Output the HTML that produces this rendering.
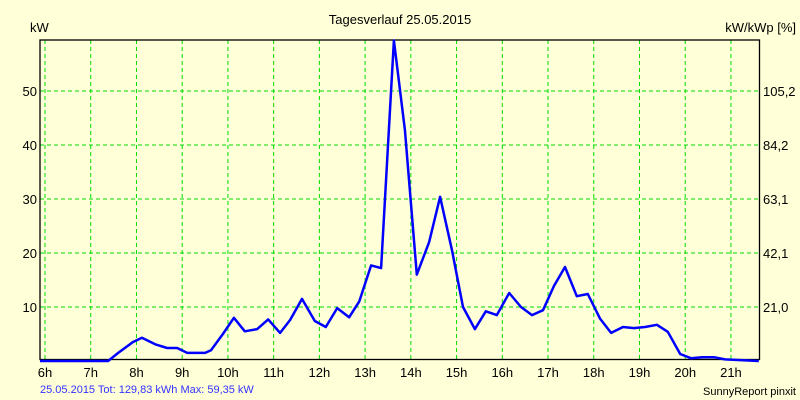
<!DOCTYPE html>
<html><head><meta charset="utf-8"><style>
html,body{margin:0;padding:0;background:#ffffd8;}
svg{display:block;font-family:"Liberation Sans",sans-serif;}
</style></head><body>
<svg width="800" height="400">
<rect x="0" y="0" width="800" height="400" fill="#ffffd8"/>
<text x="400" y="24" font-size="13" text-anchor="middle" fill="#000">Tagesverlauf 25.05.2015</text>
<text x="30" y="32" font-size="13" fill="#000">kW</text>
<text x="796" y="32" font-size="13" fill="#000" text-anchor="end">kW/kWp [%]</text>
<g id="grid"></g>
<g id="labels"></g>
<rect x="40" y="40" width="719.5" height="319.5" fill="none" stroke="#000" stroke-width="1.3"/>
<polyline id="line" fill="none" stroke="#0000ff" stroke-width="2.5" stroke-linejoin="round"/>
<text x="40" y="393" font-size="11" fill="#3333ff">25.05.2015 Tot: 129,83 kWh Max: 59,35 kW</text>
<text x="796" y="395" font-size="11" fill="#000" text-anchor="end">SunnyReport pinxit</text>
</svg>
<script>
const times=[5.89,7.38,7.60,7.92,8.12,8.41,8.67,8.89,9.11,9.50,9.63,9.89,10.13,10.37,10.64,10.88,11.14,11.36,11.62,11.90,12.14,12.39,12.65,12.87,13.13,13.35,13.63,13.87,14.13,14.40,14.64,14.90,15.14,15.40,15.64,15.88,16.15,16.41,16.65,16.89,17.13,17.37,17.63,17.87,18.14,18.38,18.64,18.88,19.12,19.38,19.62,19.89,20.13,20.37,20.63,20.87,21.61];
const powerKw=[0,0,1.5,3.5,4.3,3.1,2.4,2.4,1.5,1.5,2,5,8,5.5,5.9,7.7,5.2,7.6,11.5,7.4,6.3,9.8,8.1,11,17.7,17.2,59.35,42.8,16,22,30.4,20.5,10,5.9,9.2,8.5,12.6,10,8.5,9.4,13.9,17.4,12,12.4,7.8,5.2,6.3,6.1,6.3,6.7,5.4,1.3,0.5,0.7,0.7,0.3,0];
const hourTicks=[6,7,8,9,10,11,12,13,14,15,16,17,18,19,20,21];
const kwTicks=[10,20,30,40,50];
const pctLabels=["21,0","42,1","63,1","84,2","105,2"];
const X=h=>45+(h-6)*45.73;
const Y=v=>361-v*5.4;
const NS="http://www.w3.org/2000/svg";
const grid=document.getElementById('grid'),labels=document.getElementById('labels');
hourTicks.forEach(h=>{
  const l=document.createElementNS(NS,'line');
  
  
  l.setAttribute('x1',X(h));l.setAttribute('x2',X(h));l.setAttribute('y1',40);l.setAttribute('y2',360);
  l.setAttribute('stroke','#00dd00');l.setAttribute('stroke-dasharray','4,3');
  grid.appendChild(l);
  const t=document.createElementNS(NS,'text');
  
  
  t.setAttribute('x',X(h));t.setAttribute('y',377);t.setAttribute('font-size','13');t.setAttribute('text-anchor','middle');
  t.textContent=h+'h';labels.appendChild(t);
});
kwTicks.forEach((v,i)=>{
  const l=document.createElementNS(NS,'line');
  
  
  l.setAttribute('x1',40);l.setAttribute('x2',760);l.setAttribute('y1',Y(v));l.setAttribute('y2',Y(v));
  l.setAttribute('stroke','#00dd00');l.setAttribute('stroke-dasharray','4,3');
  grid.appendChild(l);
  const t=document.createElementNS(NS,'text');
  
  
  t.setAttribute('x',37);t.setAttribute('y',Y(v)+5);t.setAttribute('font-size','13');t.setAttribute('text-anchor','end');
  t.textContent=v;labels.appendChild(t);
  const r=document.createElementNS(NS,'text');
  
  
  r.setAttribute('x',763);r.setAttribute('y',Y(v)+5);r.setAttribute('font-size','13');
  r.textContent=pctLabels[i];labels.appendChild(r);
});
document.getElementById('line').setAttribute('points',times.map((t,i)=>X(t).toFixed(1)+','+Y(powerKw[i]).toFixed(1)).join(' '));
</script>
</body></html>
